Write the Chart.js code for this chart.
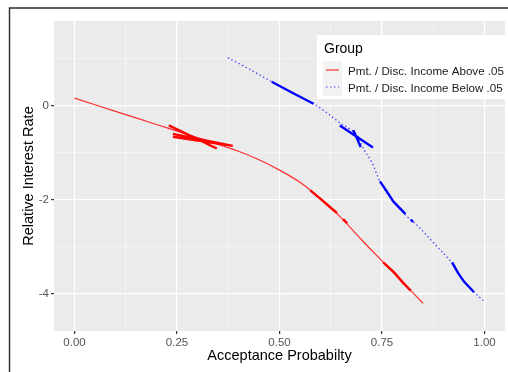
<!DOCTYPE html>
<html>
<head>
<meta charset="utf-8">
<script src="https://cdn.jsdelivr.net/npm/chart.js@4.4.1/dist/chart.umd.min.js"></script>
<style>
  body { margin: 0; background: #fff; }
  #wrap { width: 508px; height: 372px; position: relative; }
</style>
</head>
<body>
<div id="wrap"><canvas id="grafica"></canvas></div>
<script>
// Series: Pmt. / Disc. Income Above .05 (red, solid)
const redX = [0.00, 0.10, 0.20, 0.30, 0.40, 0.45, 0.50, 0.55, 0.60, 0.65, 0.70, 0.75, 0.80, 0.85]
const redY = [0.16, -0.12, -0.40, -0.68, -0.97, -1.15, -1.37, -1.63, -1.98, -2.38, -2.85, -3.30, -3.75, -4.20]

// thick pieces of the red curve (null = break)
const redThickX = [0.23, 0.347, null, 0.24, 0.386, 0.24, null, 0.575, 0.60, 0.625, 0.64, null, 0.655, 0.665, null, 0.753, 0.78, 0.80, 0.82]
const redThickY = [-0.42, -0.91, null, -0.60, -0.855, -0.66, null, -1.80, -1.98, -2.17, -2.28, null, -2.41, -2.50, null, -3.33, -3.55, -3.75, -3.93]

// Series: Pmt. / Disc. Income Below .05 (blue, dotted)
const blueX = [0.374, 0.43, 0.481, 0.53, 0.583, 0.62, 0.648, 0.672, 0.689, 0.705, 0.725, 0.745, 0.778, 0.807, 0.84, 0.876, 0.921, 0.95, 0.974, 0.998]
const blueY = [1.02, 0.76, 0.51, 0.28, 0.04, -0.18, -0.37, -0.50, -0.62, -0.92, -1.20, -1.61, -2.04, -2.32, -2.58, -2.92, -3.35, -3.74, -3.96, -4.15]

const blueThickX = [0.481, 0.53, 0.583, null, 0.647, 0.728, null, 0.68, 0.698, null, 0.745, 0.76, 0.778, 0.807, null, 0.82, 0.826, null, 0.921, 0.935, 0.95, 0.974]
const blueThickY = [0.51, 0.28, 0.04, null, -0.42, -0.89, null, -0.52, -0.88, null, -1.61, -1.80, -2.04, -2.30, null, -2.42, -2.47, null, -3.33, -3.55, -3.74, -3.96]

// Axes
const xMajor = [0, 0.25, 0.5, 0.75, 1]
const xLabels = ['0.00', '0.25', '0.50', '0.75', '1.00']
const xMinor = [0.125, 0.375, 0.625, 0.875]
const yMajor = [-4, -2, 0]
const yLabels = ['-4', '-2', '0']
const yMinor = [-3, -1, 1]

const groupTitle = 'Group'
const seriesNames = ['Pmt. / Disc. Income Above .05', 'Pmt. / Disc. Income Below .05']

const FONT = '"Liberation Sans", Arial, sans-serif'

function pts(xs, ys){
    return xs.map((x, i) => ({x: x, y: ys[i]}))
}

function isMajorX(v){ return xMajor.some(m => Math.abs(m - v) < 1e-6) }
function isMajorY(v){ return yMajor.some(m => Math.abs(m - v) < 1e-6) }

// grey panel + outer frame
const panelPlugin = {
    id: 'panel',
    beforeDraw(chart){
        const c = chart.ctx
        const a = chart.chartArea
        c.save()
        c.fillStyle = '#fff'
        c.fillRect(0, 0, chart.width, chart.height)
        c.fillStyle = '#EBEBEB'
        c.fillRect(a.left, a.top, a.right - a.left, a.bottom - a.top)
        c.strokeStyle = '#2b2b2b'
        c.lineWidth = 1.4
        c.beginPath()
        c.moveTo(9.5, chart.height)
        c.lineTo(9.5, 8)
        c.lineTo(chart.width, 8)
        c.stroke()
        c.restore()
    }
}

// ggplot style legend box
const legendPlugin = {
    id: 'groupLegend',
    afterDraw(chart){
        const c = chart.ctx
        c.save()
        c.fillStyle = '#fff'
        c.fillRect(317, 35, 191, 64)
        c.fillStyle = '#F2F2F2'
        c.fillRect(323, 61, 19, 35)
        c.fillStyle = '#000'
        c.font = '14px ' + FONT
        c.textBaseline = 'alphabetic'
        c.fillText(groupTitle, 324, 52.5)
        c.lineWidth = 1.2
        c.strokeStyle = 'rgba(255,0,0,0.8)'
        c.beginPath(); c.moveTo(326, 70); c.lineTo(339, 70); c.stroke()
        c.strokeStyle = 'rgba(0,0,255,0.7)'
        c.setLineDash([1.5, 2.5])
        c.beginPath(); c.moveTo(326, 87); c.lineTo(339, 87); c.stroke()
        c.setLineDash([])
        c.fillStyle = '#1a1a1a'
        c.font = '11.6px ' + FONT
        c.fillText(seriesNames[0], 348, 74.5)
        c.fillText(seriesNames[1], 348, 91.5)
        c.restore()
    }
}

let ctx = document.getElementById('grafica')
const config = {
    type: 'scatter',
    data: {
        datasets: [{
            label: seriesNames[0],
            data: pts(redX, redY),
            showLine: true,
            borderColor: 'rgba(255,0,0,0.8)',
            borderWidth: 1.2,
            pointRadius: 0,
            cubicInterpolationMode: 'monotone'
        },
        {
            label: seriesNames[0] + ' (thick)',
            data: pts(redThickX, redThickY),
            showLine: true,
            spanGaps: false,
            borderColor: '#FF0000',
            borderWidth: 2.4,
            pointRadius: 0,
            tension: 0
        },
        {
            label: seriesNames[1],
            data: pts(blueX, blueY),
            showLine: true,
            borderColor: 'rgba(0,0,255,0.7)',
            borderWidth: 1.3,
            borderDash: [1.5, 2.5],
            pointRadius: 0,
            cubicInterpolationMode: 'monotone'
        },
        {
            label: seriesNames[1] + ' (thick)',
            data: pts(blueThickX, blueThickY),
            showLine: true,
            spanGaps: false,
            borderColor: '#0000FF',
            borderWidth: 2.4,
            pointRadius: 0,
            tension: 0
        }]
    },
    options: {
        responsive: true,
        maintainAspectRatio: false,
        animation: false,
        layout: { padding: { left: 10, top: 21, right: 3, bottom: 0 } },
        plugins: {
            legend: { display: false },
            tooltip: { enabled: false }
        },
        scales: {
            x: {
                type: 'linear',
                min: -0.05,
                max: 1.05,
                afterBuildTicks: scale => {
                    scale.ticks = xMajor.concat(xMinor).sort((a, b) => a - b).map(v => ({value: v}))
                },
                afterFit: scale => { scale.height = 41 },
                ticks: {
                    autoSkip: false,
                    maxRotation: 0,
                    padding: 2,
                    color: '#555555',
                    font: { family: FONT, size: 11.5 },
                    callback: v => {
                        const i = xMajor.findIndex(m => Math.abs(m - v) < 1e-6)
                        return i >= 0 ? xLabels[i] : ''
                    }
                },
                grid: {
                    color: c => isMajorX(c.tick.value) ? '#FFFFFF' : 'rgba(255,255,255,0.75)',
                    lineWidth: c => isMajorX(c.tick.value) ? 1.2 : 0.6,
                    tickColor: c => isMajorX(c.tick.value) ? '#333333' : 'rgba(0,0,0,0)',
                    tickLength: 3
                },
                border: { display: false },
                title: {
                    display: true,
                    text: 'Acceptance Probabilty',
                    color: '#000',
                    font: { family: FONT, size: 14.5 },
                    padding: { top: 0, bottom: 7 }
                }
            },
            y: {
                type: 'linear',
                min: -4.79,
                max: 1.8,
                afterBuildTicks: scale => {
                    scale.ticks = yMajor.concat(yMinor).sort((a, b) => a - b).map(v => ({value: v}))
                },
                afterFit: scale => { scale.width = 44 },
                ticks: {
                    autoSkip: false,
                    padding: 2,
                    color: '#555555',
                    font: { family: FONT, size: 11.5 },
                    callback: v => {
                        const i = yMajor.findIndex(m => Math.abs(m - v) < 1e-6)
                        return i >= 0 ? yLabels[i] : ''
                    }
                },
                grid: {
                    color: c => isMajorY(c.tick.value) ? '#FFFFFF' : 'rgba(255,255,255,0.75)',
                    lineWidth: c => isMajorY(c.tick.value) ? 1.2 : 0.6,
                    tickColor: c => isMajorY(c.tick.value) ? '#333333' : 'rgba(0,0,0,0)',
                    tickLength: 3
                },
                border: { display: false },
                title: {
                    display: true,
                    text: 'Relative Interest Rate',
                    color: '#000',
                    font: { family: FONT, size: 14.5 },
                    padding: { top: 10, bottom: 0 }
                }
            }
        }
    },
    plugins: [panelPlugin, legendPlugin]
}

let myChart = new Chart(ctx, config)
</script>
</body>
</html>
